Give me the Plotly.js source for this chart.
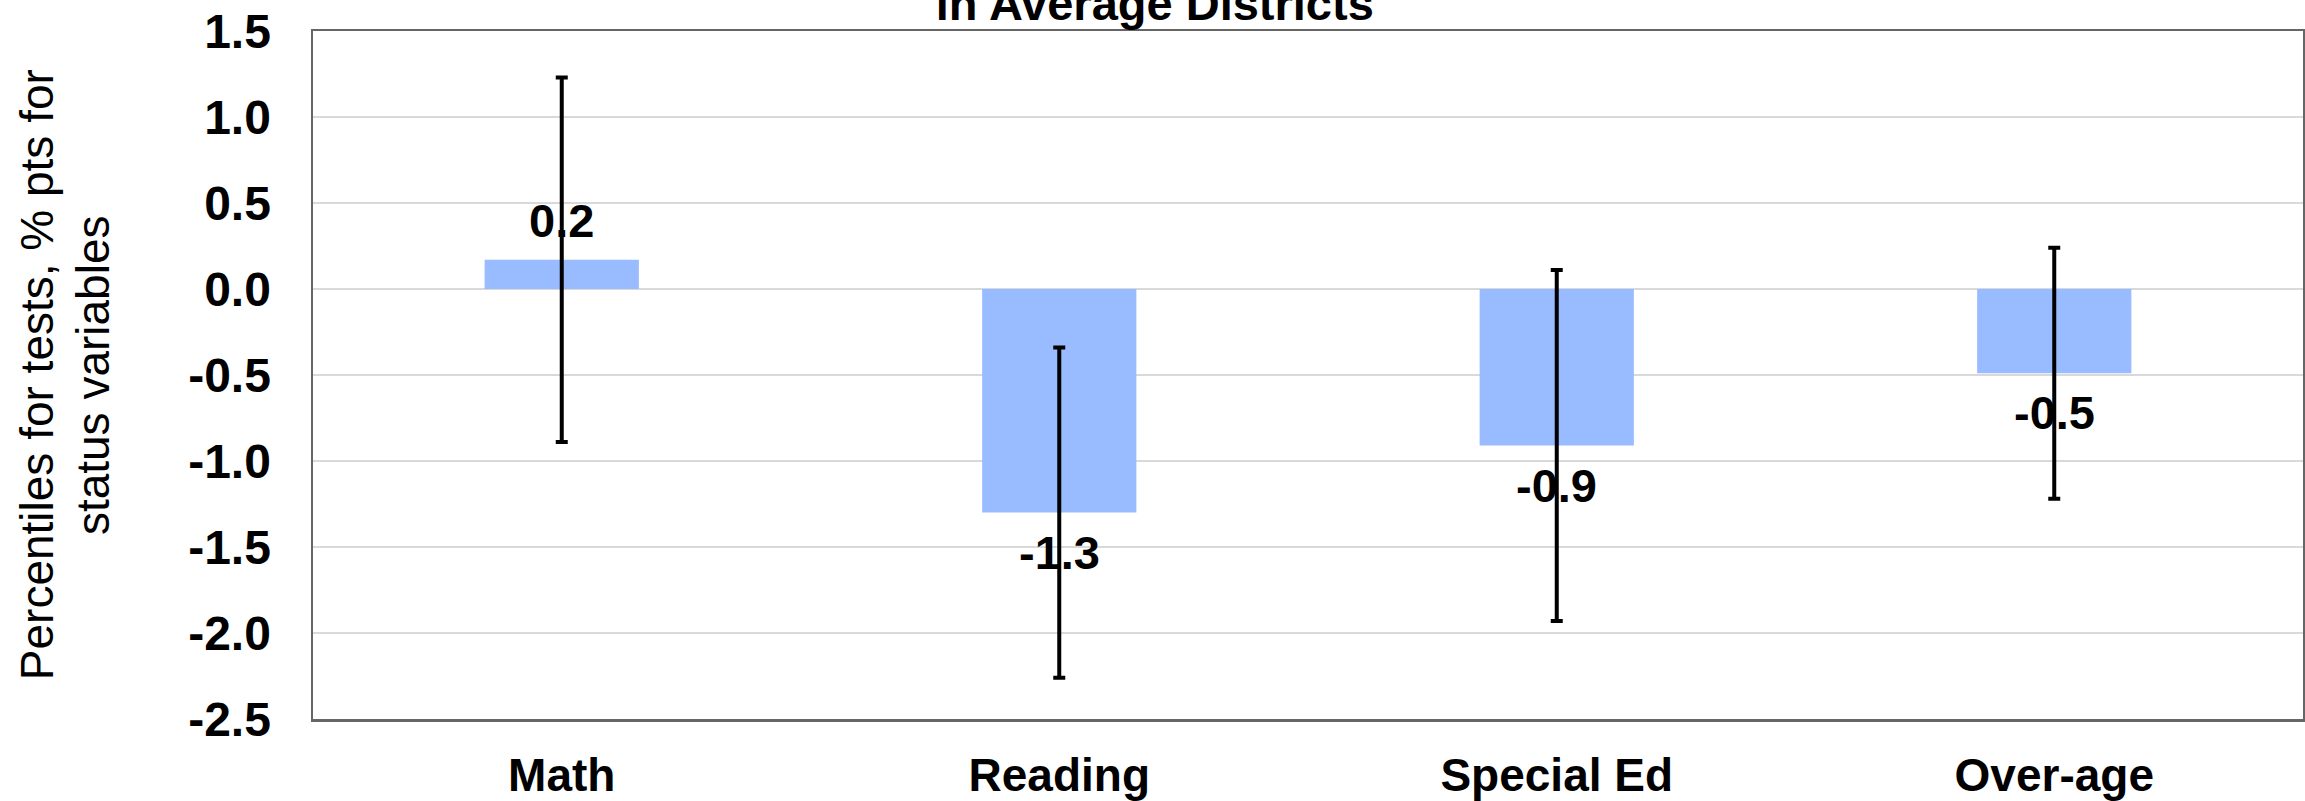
<!DOCTYPE html>
<html>
<head>
<meta charset="utf-8">
<script src="https://cdn.plot.ly/plotly-3.0.1.min.js"></script>
<style>html,body{margin:0;padding:0;background:#fff;}#chart{width:2305px;height:801px;}</style>
</head>
<body>
<div id="chart"></div>
<script>
// Data
var categories = ["Math", "Reading", "Special Ed", "Over-age"];
var values = [0.17, -1.30, -0.91, -0.49];
var errors = [1.06, 0.96, 1.02, 0.73];
var valueLabels = ["0.2", "-1.3", "-0.9", "-0.5"];
var yTickVals = [1.5, 1.0, 0.5, 0.0, -0.5, -1.0, -1.5, -2.0, -2.5];
var yTickText = ["1.5", "1.0", "0.5", "0.0", "-0.5", "-1.0", "-1.5", "-2.0", "-2.5"];
var yTitleLines = ["Percentiles for tests, % pts for", "status variables"];

var FONT = "Liberation Sans, Arial, Helvetica, sans-serif";

var trace = {
  type: "bar",
  x: categories,
  y: values,
  width: 0.31,
  marker: {color: "#99BBFF", line: {width: 0}},
  error_y: {type: "data", array: errors, visible: true, symmetric: true,
            color: "#000000", thickness: 4, width: 6},
  hoverinfo: "none",
  showlegend: false
};

var annotations = categories.map(function (c, i) {
  var pos = values[i] >= 0;
  return {
    x: c, y: values[i], xref: "x", yref: "y",
    text: "<b>" + valueLabels[i] + "</b>",
    showarrow: false,
    xanchor: "center",
    yanchor: pos ? "bottom" : "top",
    yshift: pos ? 11 : -11,
    font: {family: FONT, size: 47, color: "#000000"}
  };
});

// y-axis title, two lines (rotated)
var yTitleX = [-0.1386, -0.1105];
yTitleLines.forEach(function (t, i) {
  annotations.push({
    xref: "paper", yref: "paper",
    x: yTitleX[i], y: 0.5,
    xanchor: "center", yanchor: "middle",
    textangle: -90,
    showarrow: false,
    text: t,
    font: {family: FONT, size: 46, color: "#000000"}
  });
});

var layout = {
  width: 2305,
  height: 801,
  margin: {l: 313, r: 2, t: 31, b: 82, pad: 0},
  paper_bgcolor: "#ffffff",
  plot_bgcolor: "#ffffff",
  title: {
    text: "<b>in Average Districts</b>",
    xref: "container", yref: "container",
    x: 0.501, xanchor: "center",
    y: 0.975, yanchor: "bottom",
    font: {family: FONT, size: 47, color: "#000000"}
  },
  xaxis: {
    type: "category",
    categoryorder: "array",
    categoryarray: categories,
    showgrid: false,
    zeroline: false,
    showline: true,
    mirror: true,
    linecolor: "#666666",
    linewidth: 2.5,
    ticks: "",
    ticklabelstandoff: 14,
    tickfont: {family: FONT, size: 46, color: "#000000", weight: "bold"},
    fixedrange: true
  },
  yaxis: {
    range: [-2.5, 1.5],
    tickmode: "array",
    tickvals: yTickVals,
    ticktext: yTickText,
    showgrid: true,
    gridcolor: "#d9d9d9",
    gridwidth: 2,
    zeroline: false,
    showline: true,
    mirror: true,
    linecolor: "#666666",
    linewidth: 2.5,
    ticks: "",
    ticklabelstandoff: 30,
    tickfont: {family: FONT, size: 48, color: "#000000", weight: "bold"},
    fixedrange: true
  },
  annotations: annotations
};

Plotly.newPlot("chart", [trace], layout, {staticPlot: true, displayModeBar: false});
</script>
</body>
</html>
